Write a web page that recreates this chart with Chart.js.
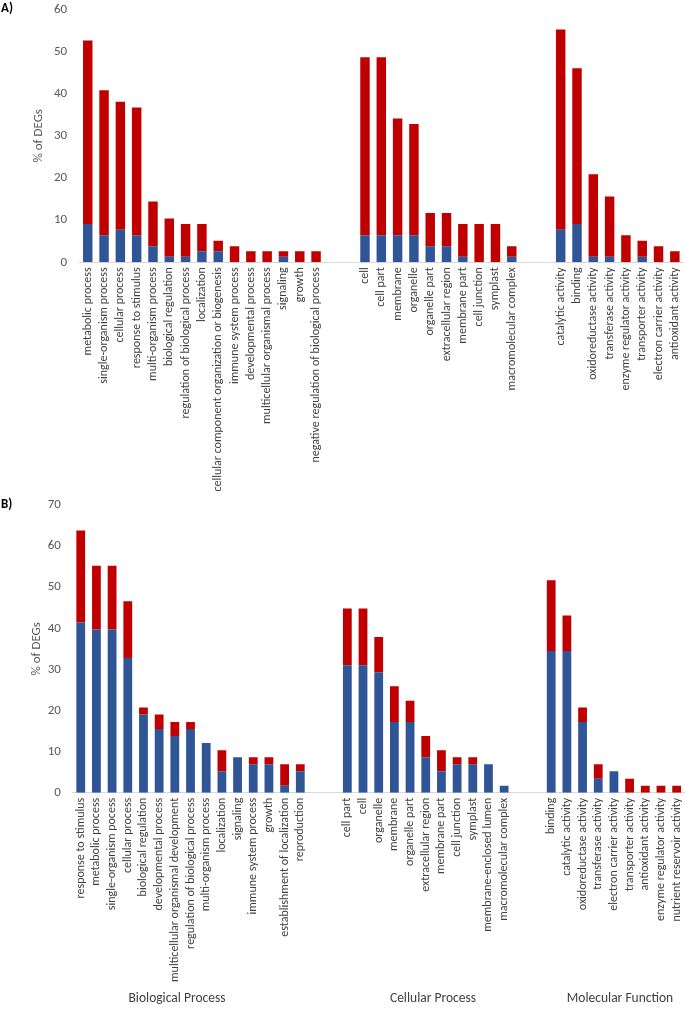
<!DOCTYPE html>
<html>
<head>
<meta charset="utf-8">
<script src="https://cdn.jsdelivr.net/npm/chart.js@4/dist/chart.umd.min.js"></script>
<style>
    body { margin: 0; background: #fff; width: 685px; height: 1012px; position: relative; overflow: hidden; font-family: Carlito, Lato, sans-serif; }
    .panel { position: absolute; left: 0; width: 685px; }
    .tag { position: absolute; left: 1px; font-weight: bold; font-size: 13px; color: #000; }
    .group { position: absolute; top: 989px; font-size: 13.5px; color: #404040; transform: translateX(-50%); white-space: nowrap; }
</style>
</head>
<body>
<div class="panel" style="top:0;height:495px;"><canvas id="chart-a"></canvas></div>
<div class="panel" style="top:470px;height:542px;"><canvas id="chart-b"></canvas></div>
<div class="tag" style="top:0px;">A)</div>
<div class="tag" style="top:496px;">B)</div>
<div class="group" style="left:177px;">Biological Process</div>
<div class="group" style="left:433px;">Cellular Process</div>
<div class="group" style="left:620px;">Molecular Function</div>

<script>
// Panel A data
const bpLabelsA = ['metabolic process', 'single-organism process', 'cellular process', 'response to stimulus',
    'multi-organism process', 'biological regulation', 'regulation of biological process', 'localization',
    'cellular component organization or biogenesis', 'immune system process', 'developmental process',
    'multicellular organismal process', 'signaling', 'growth', 'negative regulation of biological process'];
const bpBlueA = [9.1, 6.4, 7.7, 6.4, 3.8, 1.3, 1.3, 2.6, 2.6, 0, 0, 0, 1.3, 0, 0];
const bpRedA = [43.5, 34.4, 30.4, 30.3, 10.6, 9.1, 7.8, 6.5, 2.5, 3.8, 2.6, 2.6, 1.3, 2.6, 2.6];

const ccLabelsA = ['cell', 'cell part', 'membrane', 'organelle', 'organelle part', 'extracellular region',
    'membrane part', 'cell junction', 'symplast', 'macromolecular complex'];
const ccBlueA = [6.4, 6.4, 6.4, 6.4, 3.8, 3.8, 1.3, 0, 0, 1.3];
const ccRedA = [42.2, 42.2, 27.7, 26.4, 7.9, 7.9, 7.8, 9.1, 9.1, 2.5];

const mfLabelsA = ['catalytic activity', 'binding', 'oxidoreductase activity', 'transferase activity',
    'enzyme regulator activity', 'transporter activity', 'electron carrier activity', 'antioxidant activity'];
const mfBlueA = [7.7, 9.1, 1.3, 1.3, 0, 1.3, 0, 0];
const mfRedA = [47.5, 36.9, 19.6, 14.3, 6.4, 3.8, 3.8, 2.6];

// Panel B data
const bpLabelsB = ['response to stimulus', 'metabolic process', 'single-organism pocess', 'cellular process',
    'biological regulation', 'developmental process', 'multicellular organismal development',
    'regulation of biological process', 'multi-organism process', 'localization', 'signaling',
    'immune system process', 'growth', 'establishment of localization', 'reproduction'];
const bpBlueB = [41.4, 39.7, 39.7, 32.8, 19.0, 15.5, 13.8, 15.5, 12.1, 5.2, 8.6, 6.9, 6.9, 1.7, 5.2];
const bpRedB = [22.4, 15.5, 15.5, 13.8, 1.7, 3.5, 3.4, 1.7, 0, 5.1, 0, 1.7, 1.7, 5.2, 1.7];

const ccLabelsB = ['cell part', 'cell', 'organelle', 'membrane', 'organelle part', 'extracellular region',
    'membrane part', 'cell junction', 'symplast', 'membrane-enclosed lumen', 'macromolecular complex'];
const ccBlueB = [31.0, 31.0, 29.3, 17.2, 17.2, 8.6, 5.2, 6.9, 6.9, 6.9, 1.7];
const ccRedB = [13.8, 13.8, 8.6, 8.7, 5.2, 5.2, 5.1, 1.7, 1.7, 0, 0];

const mfLabelsB = ['binding', 'catalytic activity', 'oxidoreductase activity', 'transferase activity',
    'electron carrier activity', 'transporter activity', 'antioxidant activity',
    'enzyme regulator activity', 'nutrient reservoir activity'];
const mfBlueB = [34.5, 34.5, 17.2, 3.4, 5.2, 0, 0, 0, 0];
const mfRedB = [17.2, 8.6, 3.5, 3.5, 0, 3.4, 1.7, 1.7, 1.7];

const yTicksA = [0, 10, 20, 30, 40, 50, 60];
const yTicksB = [0, 10, 20, 30, 40, 50, 60, 70];

const BLUE = '#2F5597';
const RED = '#C00000';
const GRAY = '#595959';

Chart.defaults.font.family = 'Carlito, Lato, sans-serif';

// two empty categories between the groups
function joinGroups(a, b, c, blank) {
    return [...a, blank, blank, ...b, blank, blank, ...c];
}

function createPanel(id, labels, blue, red, yTicks, opts) {
    const ctx = document.getElementById(id);
    new Chart(ctx, {
        type: 'bar',
        data: {
            labels: labels,
            datasets: [
                { data: blue, backgroundColor: BLUE, barPercentage: opts.barPct, categoryPercentage: 1 },
                { data: red, backgroundColor: RED, barPercentage: opts.barPct, categoryPercentage: 1 }
            ]
        },
        options: {
            responsive: true,
            maintainAspectRatio: false,
            animation: false,
            layout: { padding: { top: opts.padTop, right: opts.padRight, left: 0, bottom: 0 } },
            plugins: { legend: { display: false }, tooltip: { enabled: false } },
            scales: {
                x: {
                    stacked: true,
                    offset: true,
                    grid: { display: false, drawTicks: false },
                    border: { display: true, color: '#D9D9D9', width: 1 },
                    ticks: {
                        autoSkip: false,
                        maxRotation: 90,
                        minRotation: 90,
                        padding: 5,
                        color: '#404040',
                        font: { size: 12 }
                    },
                    afterFit: function(scale) {
                        scale.height = opts.xHeight;
                        scale.paddingLeft = 0;
                        scale.paddingRight = 0;
                    }
                },
                y: {
                    stacked: true,
                    min: yTicks[0],
                    max: yTicks[yTicks.length - 1],
                    grid: { display: false, drawTicks: false },
                    border: { display: false },
                    ticks: { stepSize: yTicks[1] - yTicks[0], padding: opts.tickPad, color: GRAY, font: { size: 13 } },
                    title: {
                        display: true,
                        text: '% of DEGs',
                        color: GRAY,
                        font: { size: 13 },
                        padding: { top: opts.titlePad, bottom: 0 }
                    },
                    afterFit: function(scale) {
                        scale.width = opts.yWidth;
                        scale.paddingTop = 0;
                        scale.paddingBottom = 0;
                    }
                }
            }
        }
    });
}

createPanel('chart-a',
    joinGroups(bpLabelsA, ccLabelsA, mfLabelsA, ''),
    joinGroups(bpBlueA, ccBlueA, mfBlueA, null),
    joinGroups(bpRedA, ccRedA, mfRedA, null),
    yTicksA,
    { barPct: 0.58, padTop: 9.3, padRight: 2, xHeight: 232.7, yWidth: 79.6, tickPad: 12.5, titlePad: 31 });

createPanel('chart-b',
    joinGroups(bpLabelsB, ccLabelsB, mfLabelsB, ''),
    joinGroups(bpBlueB, ccBlueB, mfBlueB, null),
    joinGroups(bpRedB, ccRedB, mfRedB, null),
    yTicksB,
    { barPct: 0.56, padTop: 35, padRight: 0.5, xHeight: 219.3, yWidth: 72.9, tickPad: 12, titlePad: 29 });
</script>
</body>
</html>
